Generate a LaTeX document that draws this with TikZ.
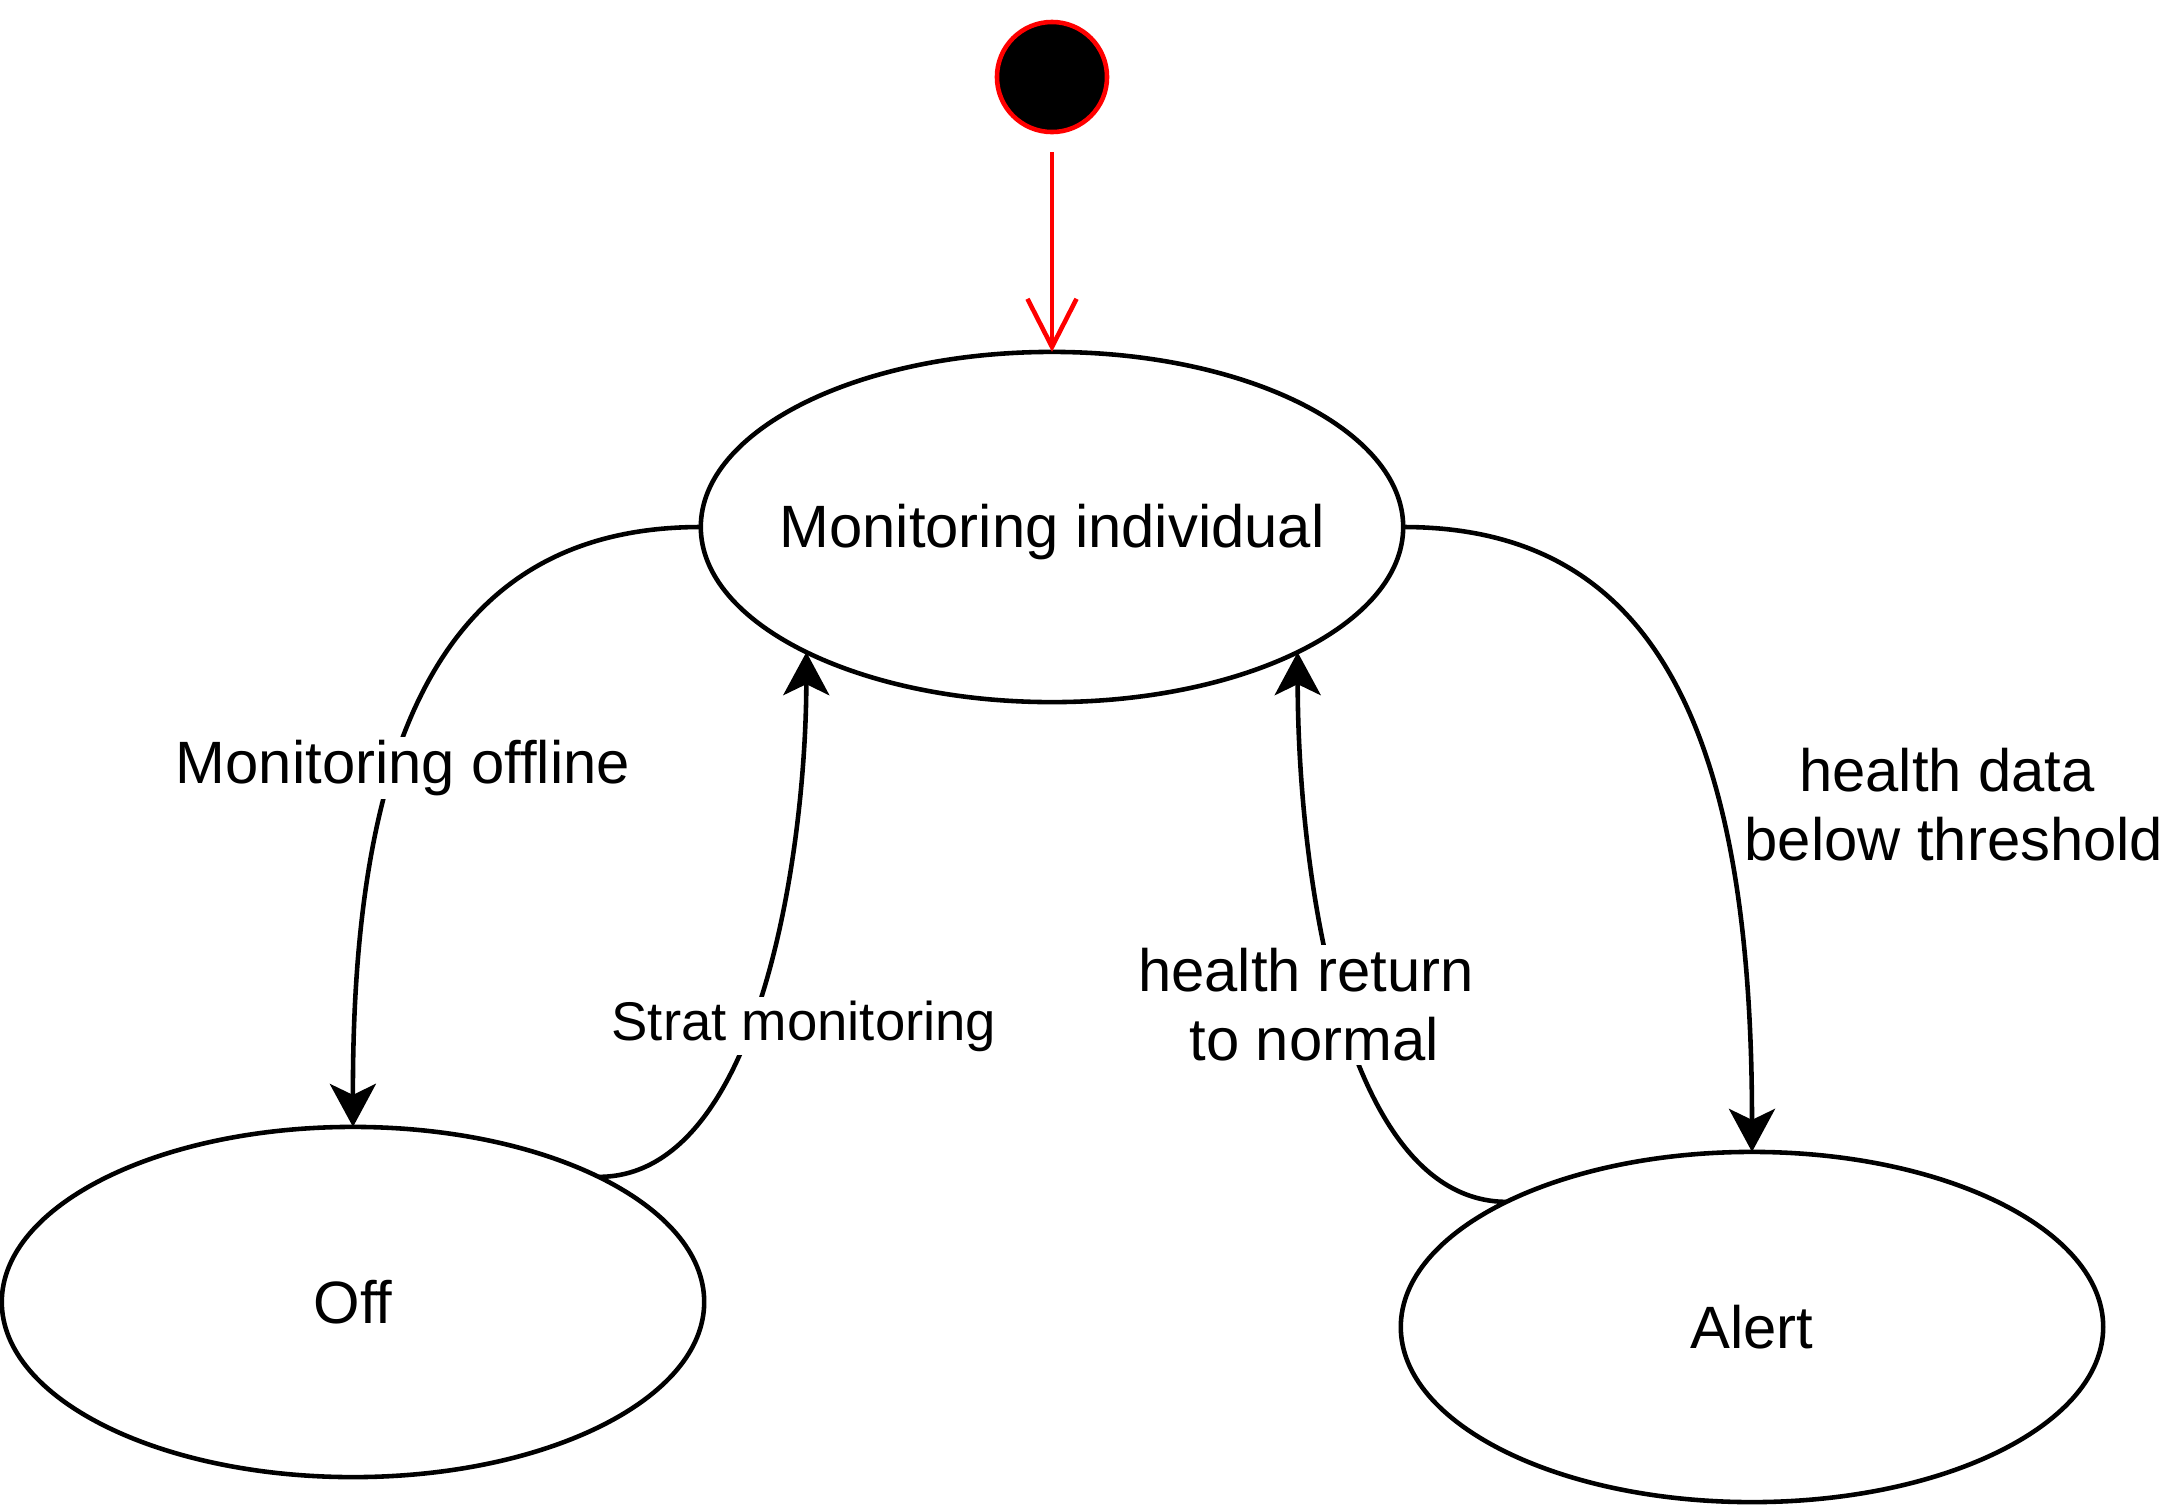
\documentclass[tikz,border=0pt]{standalone}
\usepackage{fontspec}
\setmainfont{Liberation Sans}
\usetikzlibrary{shapes.geometric,arrows.meta}
\begin{document}
\begin{tikzpicture}[x=0.01cm,y=-0.01cm,
  state/.style={ellipse,draw,line width=1.3pt,minimum width=7.02cm,minimum height=3.5cm,inner sep=0pt,outer sep=0pt,font=\fontsize{17}{20}\selectfont},
  edge/.style={line width=1.3pt,-{Stealth[length=0.43cm,width=0.46cm,inset=0.11cm]}},
  lbl/.style={fill=white,inner sep=1pt,align=center,font=\fontsize{17}{19.6}\selectfont},
  slbl/.style={fill=white,inner sep=1pt,align=center,font=\fontsize{15.5}{18}\selectfont}]
\useasboundingbox (0,0) rectangle (2165,1505);
\node[circle,draw=red,fill=black,line width=1.3pt,minimum size=1.1cm,inner sep=0pt,outer sep=0pt] (init) at (1052,77) {};
\node[state,label={[font=\fontsize{17}{20}\selectfont,yshift=-0.05cm]center:Monitoring individual}] (mon) at (1052,527) {};
\node[state] (off) at (353,1302) {\makebox[0pt]{Off}};
\node[state] (alert) at (1752,1327) {\makebox[0pt]{Alert}};

\draw[red,line width=1.3pt,shorten <=0.2cm,-{Straight Barb[length=0.48cm,width=0.49cm]}] (init) -- (mon.north);

\draw[edge] (mon.west) .. controls (455,527) and (352,720) .. (off.north);
\draw[edge] (off.27) .. controls (760,1177) and (806,850) .. (mon.207);
\draw[edge] (alert.153) .. controls (1343,1201) and (1298,874) .. (mon.333);
\draw[edge] (mon.east) .. controls (1649,527) and (1752,720) .. (alert.north);

\node[lbl] (l1) at (403,768) {Monitoring offline};
\node[slbl] (l2) at (804,1026) {Strat monitoring};
\node[lbl] (l3) at (1306,1005) {health return\\\hspace*{0.16cm}to normal};
\node[lbl,fill=none] (l4) at (1954,805) {health data\hspace*{0.14cm}\\below threshold};
\end{tikzpicture}
\end{document}
